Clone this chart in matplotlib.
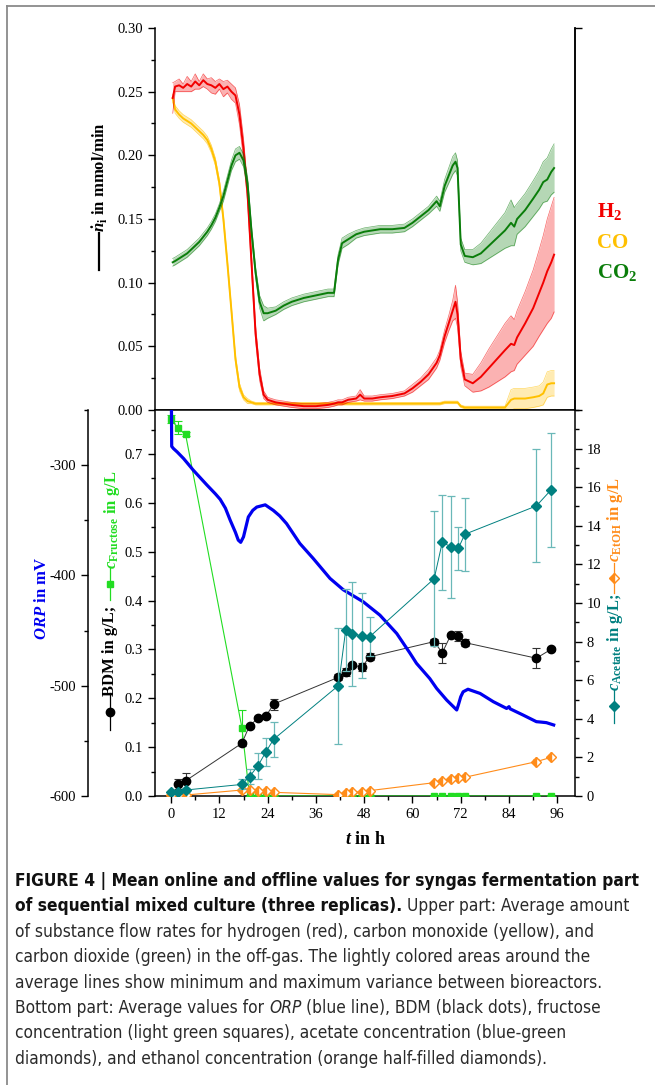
import matplotlib
matplotlib.use('Agg')
import matplotlib.pyplot as plt
import numpy as np
from matplotlib.lines import Line2D
from matplotlib import font_manager as fm
from matplotlib.ticker import MultipleLocator, FormatStrFormatter, FixedLocator

# ---------------- data: upper panel (off-gas flow rates, mmol/min) ----------------
t_gas = [0.4, 1, 2, 3, 4, 5, 6, 7, 8, 9, 10, 11, 12, 13, 14, 15, 16, 17, 18, 19,
         20, 21, 22, 23, 24, 26, 28, 30, 33, 36, 39, 40.5, 41.5, 42.5, 44, 46, 47,
         48, 50, 52, 55, 58, 60, 62, 64, 66, 66.8, 68, 69, 70, 70.7, 71.2, 72, 73,
         75, 77, 79, 81, 83, 84.5, 85.3, 86, 88, 90, 91.5, 92.5, 93.5, 94.5, 95.2]
h2_mean = [0.245, 0.254, 0.255, 0.253, 0.256, 0.254, 0.258, 0.255, 0.259, 0.256,
           0.255, 0.253, 0.256, 0.252, 0.254, 0.250, 0.247, 0.232, 0.205, 0.170,
           0.115, 0.060, 0.028, 0.012, 0.008, 0.006, 0.005, 0.004, 0.003, 0.003,
           0.004, 0.005, 0.006, 0.006, 0.008, 0.009, 0.012, 0.009, 0.009, 0.010,
           0.011, 0.013, 0.017, 0.022, 0.028, 0.037, 0.043, 0.058, 0.068, 0.078,
           0.085, 0.075, 0.040, 0.024, 0.021, 0.026, 0.033, 0.040, 0.047, 0.052,
           0.051, 0.057, 0.068, 0.080, 0.092, 0.100, 0.109, 0.116, 0.122]
h2_hw = [0.012, 0.004, 0.005, 0.003, 0.006, 0.004, 0.006, 0.003, 0.005, 0.004,
         0.006, 0.005, 0.004, 0.006, 0.005, 0.006, 0.006, 0.008, 0.008, 0.006,
         0.006, 0.006, 0.005, 0.003, 0.002, 0.002, 0.002, 0.002, 0.002, 0.002,
         0.002, 0.002, 0.002, 0.002, 0.002, 0.002, 0.004, 0.002, 0.002, 0.002,
         0.002, 0.002, 0.003, 0.003, 0.004, 0.004, 0.004, 0.005, 0.006, 0.008,
         0.013, 0.010, 0.006, 0.005, 0.007, 0.011, 0.015, 0.018, 0.021, 0.022,
         0.020, 0.021, 0.025, 0.030, 0.034, 0.037, 0.041, 0.044, 0.045]
co_mean = [0.245, 0.236, 0.232, 0.229, 0.227, 0.225, 0.222, 0.219, 0.216, 0.212,
           0.205, 0.195, 0.178, 0.150, 0.115, 0.078, 0.040, 0.018, 0.010, 0.007,
           0.006, 0.005, 0.005, 0.005, 0.005, 0.005, 0.005, 0.005, 0.005, 0.005,
           0.005, 0.005, 0.005, 0.005, 0.005, 0.005, 0.005, 0.005, 0.005, 0.005,
           0.005, 0.005, 0.005, 0.005, 0.005, 0.005, 0.005, 0.006, 0.006, 0.006,
           0.006, 0.006, 0.003, 0.002, 0.002, 0.002, 0.002, 0.002, 0.002, 0.008,
           0.009, 0.009, 0.009, 0.010, 0.011, 0.013, 0.020, 0.021, 0.021]
co_hw = [0.003, 0.003, 0.003, 0.003, 0.003, 0.003, 0.003, 0.003, 0.003, 0.003,
         0.003, 0.003, 0.003, 0.003, 0.003, 0.003, 0.003, 0.003, 0.002, 0.002,
         0.001, 0.001, 0.001, 0.001, 0.001, 0.001, 0.001, 0.001, 0.001, 0.001,
         0.001, 0.001, 0.001, 0.001, 0.001, 0.001, 0.001, 0.001, 0.001, 0.001,
         0.001, 0.001, 0.001, 0.001, 0.001, 0.001, 0.001, 0.001, 0.001, 0.001,
         0.001, 0.001, 0.001, 0.001, 0.001, 0.001, 0.001, 0.001, 0.001, 0.008,
         0.008, 0.008, 0.008, 0.008, 0.008, 0.009, 0.010, 0.010, 0.010]
co2_mean = [0.116, 0.117, 0.119, 0.121, 0.123, 0.126, 0.129, 0.132, 0.136, 0.140,
            0.145, 0.151, 0.159, 0.168, 0.180, 0.192, 0.200, 0.202, 0.196, 0.178,
            0.140, 0.108, 0.085, 0.076, 0.076, 0.078, 0.082, 0.085, 0.088, 0.090,
            0.092, 0.092, 0.118, 0.131, 0.134, 0.138, 0.139, 0.140, 0.141, 0.142,
            0.142, 0.143, 0.147, 0.152, 0.157, 0.164, 0.160, 0.176, 0.184, 0.192,
            0.195, 0.190, 0.130, 0.121, 0.120, 0.123, 0.129, 0.135, 0.141, 0.147,
            0.144, 0.150, 0.157, 0.166, 0.173, 0.179, 0.181, 0.187, 0.190]
co2_hw = [0.003, 0.003, 0.003, 0.003, 0.003, 0.003, 0.003, 0.003, 0.003, 0.003,
          0.003, 0.003, 0.003, 0.004, 0.004, 0.004, 0.005, 0.005, 0.005, 0.005,
          0.004, 0.004, 0.005, 0.006, 0.004, 0.003, 0.003, 0.003, 0.003, 0.003,
          0.003, 0.003, 0.004, 0.004, 0.004, 0.003, 0.003, 0.003, 0.003, 0.003,
          0.003, 0.003, 0.003, 0.003, 0.003, 0.004, 0.004, 0.005, 0.006, 0.007,
          0.007, 0.006, 0.005, 0.005, 0.006, 0.008, 0.010, 0.012, 0.014, 0.018,
          0.015, 0.012, 0.013, 0.014, 0.015, 0.016, 0.017, 0.018, 0.019]

# ---------------- data: lower panel ----------------
t_orp = [0, 0.15, 0.6, 1.5, 3.1, 5.5, 8.9, 11, 12.2, 13.5, 14.7, 16.0, 16.7, 17.3,
         18.0, 19.2, 20.3, 21.3, 23.4, 25.4, 27, 28.7, 32, 35.3, 39.5, 42.8, 47.8,
         51.9, 56.1, 59.4, 61.0, 64.3, 66.0, 68.5, 71.0, 71.4, 72.0, 72.6, 73.8,
         76.8, 80.1, 83.4, 84.0, 84.3, 87.5, 90.8, 92, 93.3, 95.1]
orp = [-200, -283, -285, -288, -294, -304.5, -318, -326, -331, -339, -350, -361,
       -368, -370, -365, -347, -341, -338, -336, -341, -346, -353, -371, -384.5,
       -402.7, -413, -424, -436, -452.7, -470.6, -479.7, -493.5, -502.4, -513,
       -522, -517.5, -510, -505.5, -503.2, -507, -514.5, -520.6, -519, -521,
       -526.6, -532.6, -533, -533.5, -535.6]

t_s = [0, 1.6, 3.6, 17.6, 19.5, 21.6, 23.6, 25.5, 41.6, 43.4, 45.0, 47.4, 49.4,
       65.4, 67.4, 69.5, 71.4, 73.0, 90.8, 94.4]
t_bdm = t_s[1:]
bdm = [0.0245, 0.031, 0.108, 0.144, 0.159, 0.164, 0.188, 0.243, 0.254, 0.268,
       0.264, 0.285, 0.316, 0.293, 0.329, 0.327, 0.314, 0.282, 0.300]
bdm_err = [0.010, 0.016, 0.005, 0.004, 0.004, 0.004, 0.011, 0.006, 0.008, 0.005,
           0.0085, 0.007, 0.006, 0.020, 0.004, 0.010, 0.007, 0.020, 0.004]
fru = [0.771, 0.754, 0.740, 0.140, 0, 0, 0, 0, 0, 0, 0, 0, 0, 0, 0, 0, 0, 0, 0, 0]
fru_err = [0.008, 0.013, 0.004, 0.036, 0, 0, 0, 0, 0, 0, 0, 0, 0, 0, 0, 0, 0, 0, 0, 0]
acetate = [0.19, 0.22, 0.31, 0.6, 1.0, 1.57, 2.3, 2.94, 5.72, 8.6, 8.38, 8.31, 8.26,
           11.26, 13.14, 12.92, 12.83, 13.56, 15.03, 15.85]
acetate_err = [0.05, 0.05, 0.1, 0.26, 0.38, 0.67, 0.73, 0.92, 3.0, 2.1, 2.7, 2.2, 1.0,
               3.5, 2.45, 2.64, 1.1, 1.9, 2.93, 2.94]
ethanol = [0.05, 0.05, 0.05, 0.31, 0.31, 0.28, 0.24, 0.19, 0.07, 0.14, 0.19, 0.22,
           0.28, 0.69, 0.78, 0.86, 0.91, 0.97, 1.78, 2.0]
ethanol_err = [0.02, 0.02, 0.02, 0.05, 0.05, 0.04, 0.04, 0.03, 0.02, 0.03, 0.03, 0.05,
               0.06, 0.06, 0.06, 0.05, 0.05, 0.05, 0.12, 0.10]

x_major = [0, 12, 24, 36, 48, 60, 72, 84, 96]

caption_lines = [
    [("FIGURE 4 | Mean online and offline values for syngas fermentation part", 'bold', 'normal')],
    [("of sequential mixed culture (three replicas).", 'bold', 'normal'),
     ("Upper part: Average amount", 'normal', 'normal')],
    [("of substance flow rates for hydrogen (red), carbon monoxide (yellow), and", 'normal', 'normal')],
    [("carbon dioxide (green) in the off-gas. The lightly colored areas around the", 'normal', 'normal')],
    [("average lines show minimum and maximum variance between bioreactors.", 'normal', 'normal')],
    [("Bottom part: Average values for", 'normal', 'normal'), ("ORP", 'normal', 'italic'),
     ("(blue line), BDM (black dots), fructose", 'normal', 'normal')],
    [("concentration (light green squares), acetate concentration (blue-green", 'normal', 'normal')],
    [("diamonds), and ethanol concentration (orange half-filled diamonds).", 'normal', 'normal')],
]

# ---------------- style ----------------
plt.rcParams['font.family'] = ['Liberation Serif', 'DejaVu Serif']
plt.rcParams['axes.unicode_minus'] = False
plt.rcParams['mathtext.fontset'] = 'custom'
plt.rcParams['mathtext.rm'] = 'Liberation Serif:bold'
plt.rcParams['mathtext.it'] = 'Liberation Serif:italic:bold'
plt.rcParams['mathtext.bf'] = 'Liberation Serif:bold'

C_H2, C_CO, C_CO2 = '#f20000', '#ffc000', '#0a7d0a'
C_ORP = '#0000f0'
C_FRU = '#22dd22'
C_AC = '#008080'
C_AC_E = '#6ab8b8'
C_ETH = '#ff8c1a'

W, H = 655, 1085
fig = plt.figure(figsize=(W / 100, H / 100), dpi=100)


def fx(x):
    return x / W


def fy(y):
    return 1 - y / H


L, R, T1, MID, B = 155, 575, 28, 410, 796
ax_top = fig.add_axes([fx(L), fy(MID), (R - L) / W, (MID - T1) / H])
ax_bot = fig.add_axes([fx(L), fy(B), (R - L) / W, (B - MID) / H])

TICK_FS = 10.5
XLIM = (-4, 100.4)

# ---------- upper panel ----------
for tm, hw, c, z in [(co_mean, co_hw, C_CO, 2), (h2_mean, h2_hw, C_H2, 3), (co2_mean, co2_hw, C_CO2, 4)]:
    m = np.array(tm)
    h = np.array(hw)
    lo = np.clip(m - h, 0, None)
    hi = m + h
    ax_top.fill_between(t_gas, lo, hi, color=c, alpha=0.3, lw=0, zorder=z)
    ax_top.plot(t_gas, lo, color=c, lw=0.5, alpha=0.6, zorder=z)
    ax_top.plot(t_gas, hi, color=c, lw=0.5, alpha=0.6, zorder=z)
    ax_top.plot(t_gas, m, color=c, lw=1.4, zorder=z + 0.5)

ax_top.set_xlim(*XLIM)
ax_top.set_ylim(0, 0.30)
ax_top.spines['top'].set_visible(False)
ax_top.yaxis.set_major_locator(MultipleLocator(0.05))
ax_top.yaxis.set_minor_locator(MultipleLocator(0.025))
ax_top.yaxis.set_major_formatter(FormatStrFormatter('%.2f'))
ax_top.xaxis.set_major_locator(FixedLocator(x_major))
ax_top.xaxis.set_minor_locator(MultipleLocator(6))
ax_top.tick_params(axis='y', which='both', direction='out', left=True, right=False,
                   labelsize=TICK_FS, width=1)
ax_top.tick_params(axis='x', which='both', direction='out', bottom=True, top=False,
                   labelbottom=False, width=1)
ax_top.tick_params(which='major', length=5)
ax_top.tick_params(which='minor', length=3)
for s in ax_top.spines.values():
    s.set_linewidth(1.1)

ax_top_r = ax_top.twinx()
ax_top_r.set_ylim(0, 0.30)
ax_top_r.yaxis.set_major_locator(FixedLocator([0, 0.30]))
ax_top_r.yaxis.set_minor_locator(FixedLocator([]))
ax_top_r.tick_params(axis='y', direction='out', length=5, width=1, labelright=False)
for k in ['top', 'left', 'bottom']:
    ax_top_r.spines[k].set_visible(False)
ax_top_r.spines['right'].set_linewidth(1.1)

# ---------- lower panel ----------
ax_orp = ax_bot.twinx()
ax_ac = ax_bot.twinx()

ax_orp.plot(t_orp, orp, color=C_ORP, lw=2.3, zorder=2)

ax_bot.errorbar(t_s, fru, yerr=fru_err, color=C_FRU, marker='s', ms=5, lw=0.8,
                elinewidth=0.8, capsize=3, capthick=0.8, zorder=3)
ax_bot.errorbar(t_bdm, bdm, yerr=bdm_err, color='#333333', ecolor='#333333', marker='o',
                mfc='black', mec='black', ms=6, lw=0.7, elinewidth=0.8, capsize=3,
                capthick=0.8, zorder=4)

ax_ac.errorbar(t_s, ethanol, yerr=ethanol_err, color=C_ETH, marker='D', ms=5,
               fillstyle='left', mfc=C_ETH, mfcalt='white', mec=C_ETH, lw=0.8,
               elinewidth=0.8, capsize=2.5, capthick=0.8, zorder=3)
ax_ac.errorbar(t_s, acetate, yerr=acetate_err, color=C_AC, ecolor=C_AC_E, marker='D',
               ms=5, mfc=C_AC, mec=C_AC, lw=0.7, elinewidth=0.9, capsize=3,
               capthick=0.9, zorder=4)

ax_bot.set_xlim(*XLIM)
ax_bot.set_ylim(0, 0.79)
ax_bot.yaxis.set_major_locator(FixedLocator([0, 0.1, 0.2, 0.3, 0.4, 0.5, 0.6, 0.7]))
ax_bot.yaxis.set_minor_locator(MultipleLocator(0.05))
ax_bot.yaxis.set_major_formatter(FormatStrFormatter('%.1f'))
ax_bot.xaxis.set_major_locator(FixedLocator(x_major))
ax_bot.xaxis.set_minor_locator(MultipleLocator(6))
ax_bot.tick_params(axis='both', which='both', direction='out', labelsize=TICK_FS, width=1,
                   top=False, right=False)
ax_bot.tick_params(which='major', length=5)
ax_bot.tick_params(which='minor', length=3)
ax_bot.spines['right'].set_visible(False)
for s in ax_bot.spines.values():
    s.set_linewidth(1.1)

ax_orp.set_ylim(-600, -250)
ax_orp.spines['left'].set_position(('axes', (88 - L) / (R - L)))
ax_orp.spines['left'].set_visible(True)
ax_orp.spines['left'].set_linewidth(1.1)
for k in ['right', 'top', 'bottom']:
    ax_orp.spines[k].set_visible(False)
ax_orp.yaxis.set_ticks_position('left')
ax_orp.yaxis.set_major_locator(FixedLocator([-600, -500, -400, -300]))
ax_orp.yaxis.set_minor_locator(FixedLocator([-550, -450, -350, -250]))
ax_orp.yaxis.set_major_formatter(FormatStrFormatter('%d'))
ax_orp.tick_params(axis='y', which='both', direction='out', labelsize=TICK_FS, width=1)
ax_orp.tick_params(which='major', length=5)
ax_orp.tick_params(which='minor', length=3)

ax_ac.set_ylim(0, 20)
for k in ['left', 'top', 'bottom']:
    ax_ac.spines[k].set_visible(False)
ax_ac.spines['right'].set_linewidth(1.1)
ax_ac.yaxis.set_major_locator(FixedLocator(list(range(0, 19, 2))))
ax_ac.yaxis.set_minor_locator(MultipleLocator(1))
ax_ac.yaxis.set_major_formatter(FormatStrFormatter('%d'))
ax_ac.tick_params(axis='y', which='both', direction='out', labelsize=TICK_FS, width=1)
ax_ac.tick_params(which='major', length=5)
ax_ac.tick_params(which='minor', length=3)

# ---------- axis labels & legend keys (figure pixel positions) ----------
LBL_FS = 12


def vtext(x, y, s, color, fs=LBL_FS):
    fig.text(fx(x), fy(y), s, rotation=90, ha='center', va='center', color=color,
             fontsize=fs, fontweight='bold')


def vkey(x, y0, y1, ym, color, **mk):
    fig.add_artist(Line2D([fx(x), fx(x)], [fy(y0), fy(y1)], color=color, lw=0.9,
                          transform=fig.transFigure))
    if mk:
        fig.add_artist(Line2D([fx(x)], [fy(ym)], color=color, lw=0,
                              transform=fig.transFigure, **mk))


# upper y label
vtext(100, 177, r'$\dot{n}_\mathrm{i}$ in mmol/min', 'black')
fig.add_artist(Line2D([fx(99), fx(99)], [fy(233), fy(270)], color='black', lw=1.6,
                      transform=fig.transFigure))

# BDM / fructose label
vkey(110, 693, 730, 711.7, 'black', marker='o', ms=6, mfc='black', mec='black')
vtext(110, 651, 'BDM in g/L;', 'black')
vkey(110, 567, 600, 583.5, C_FRU, marker='s', ms=5, mfc=C_FRU, mec=C_FRU)
vtext(112, 520, r'$c_\mathrm{Fructose}$ in g/L', C_FRU)

# ORP label
vtext(42, 598, r'$ORP$ in mV', C_ORP)

# acetate / ethanol label
vkey(614, 690, 723, 706, C_AC, marker='D', ms=5, mfc=C_AC, mec=C_AC)
vtext(615, 642, r'$c_\mathrm{Acetate}$ in g/L;', C_AC)
vkey(614, 563, 593, 578, C_ETH, marker='D', ms=5, fillstyle='left', mfc=C_ETH,
     mfcalt='white', mec=C_ETH)
vtext(615, 520, r'$c_\mathrm{EtOH}$ in g/L', C_ETH)

# x label
fig.text(fx(365), fy(840), r'$t$ in h', ha='center', va='center', fontsize=13,
         fontweight='bold')

# gas legend
for y, s, c in [(212, r'H$_2$', C_H2), (243, 'CO', C_CO), (272, r'CO$_2$', C_CO2)]:
    fig.text(fx(597), fy(y), s, ha='left', va='center', color=c, fontsize=15,
             fontweight='bold')

# ---------- frame ----------
fig.add_artist(Line2D([fx(7), fx(7)], [fy(6), fy(1085)], color='#8a8a8a', lw=1.3,
                      transform=fig.transFigure))
fig.add_artist(Line2D([fx(7), fx(655)], [fy(6), fy(6)], color='#8a8a8a', lw=1.3,
                      transform=fig.transFigure))

# ---------- caption ----------
# choose a narrow sans face if one is installed (caption in the reference is condensed)
cap_family, cap_stretch = 'Liberation Sans', 'normal'
_names = {f.name for f in fm.fontManager.ttflist}
if 'Liberation Sans Narrow' in _names:
    cap_family, cap_stretch = 'Liberation Sans Narrow', 'normal'
else:
    for f in fm.fontManager.ttflist:
        if f.name == 'DejaVu Sans' and str(f.stretch) in ('condensed', 'semi-condensed'):
            cap_family, cap_stretch = 'DejaVu Sans', 'condensed'
            break

renderer = fig.canvas.get_renderer()


def cap_text(x, y, s, fs, weight='normal', style='normal', **kw):
    return fig.text(x, y, s, fontsize=fs, family=cap_family, fontstretch=cap_stretch,
                    fontweight=weight, fontstyle=style, **kw)


def text_width(s, fs, weight='normal', style='normal'):
    t = cap_text(0, 0, s, fs, weight, style)
    w = t.get_window_extent(renderer).width
    t.remove()
    return w


base_w = text_width(caption_lines[2][0][0], 10)
cap_fs = 10 * 580.0 / base_w
space_w = text_width('x x', cap_fs) - text_width('xx', cap_fs)

X0 = 15
for i, runs in enumerate(caption_lines):
    yb = 886 + i * 25.4
    x = X0
    for j, (s, weight, style) in enumerate(runs):
        color = '#111111' if weight == 'bold' else '#2a2a2a'
        t = cap_text(fx(x), fy(yb), s, cap_fs, weight, style, ha='left', va='baseline',
                     color=color)
        x = t.get_window_extent(renderer).x1 + space_w

fig.savefig('out.png', dpi=100)
